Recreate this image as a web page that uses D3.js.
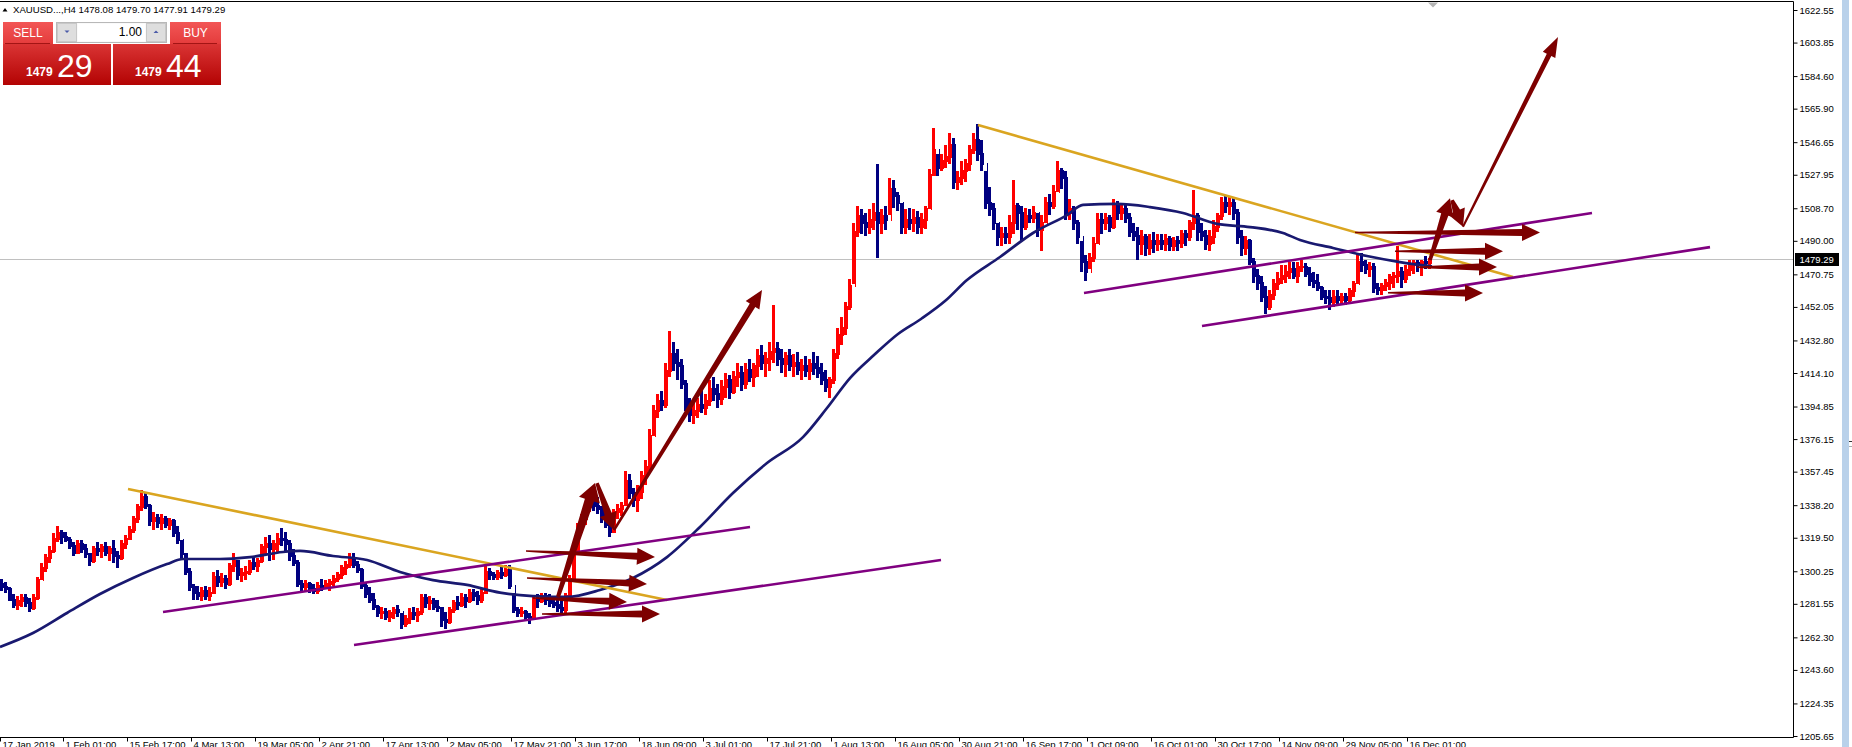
<!DOCTYPE html>
<html><head><meta charset="utf-8">
<script src="https://cdn.jsdelivr.net/npm/d3@7"></script>
<style>
html,body{margin:0;padding:0;background:#fff;overflow:hidden;}
svg{display:block;}
text{font-family:"Liberation Sans",Arial,sans-serif;}
</style></head><body>
<svg id="c" width="1852" height="747"></svg>
<script>
// ---------- DATA ----------
const symbolLabel = "XAUUSD...,H4";
const headerValues = ["1478.08", "1479.70", "1477.91", "1479.29"];
const lotSize = "1.00";
const sellPrice = ["1479", "29"];
const buyPrice = ["1479", "44"];
const lastPrice = 1479.29;
const barsPerGroup = 4;      // each entry below covers 4 H4 bars
const firstOpen = 1293;
const barHigh = [
1296,1294,1291,1287,1286,1287,1287,1285,1287,1297,
1305,1310,1315,1322,1326,1324,1323,1320,1317,1318,
1318,1316,1311,1315,1317,1316,1317,1315,1318,1312,
1318,1321,1326,1332,1339,1347,1345,1339,1334,1333,
1333,1332,1331,1330,1326,1318,1311,1302,1293,1292,
1291,1292,1291,1300,1301,1299,1298,1305,1311,1307,
1302,1303,1307,1309,1308,1316,1320,1321,1318,1322,
1325,1323,1318,1313,1307,1295,1295,1294,1293,1294,
1296,1295,1296,1298,1300,1304,1306,1311,1311,1306,
1302,1294,1291,1288,1281,1280,1279,1278,1280,1281,
1276,1275,1279,1280,1279,1287,1287,1286,1285,1284,
1280,1277,1280,1284,1286,1288,1287,1290,1290,1289,
1290,1303,1302,1300,1301,1303,1304,1304,1288,1280,
1280,1278,1276,1286,1287,1288,1288,1287,1286,1284,
1286,1288,1298,1315,1328,1333,1340,1346,1345,1343,
1338,1336,1331,1336,1339,1340,1358,1356,1348,1350,
1358,1364,1382,1396,1402,1404,1420,1438,1432,1428,
1422,1410,1400,1397,1400,1405,1402,1410,1412,1408,
1410,1414,1413,1415,1420,1418,1420,1422,1420,1428,
1430,1426,1432,1453,1432,1428,1426,1428,1425,1426,
1422,1424,1422,1426,1424,1420,1416,1412,1428,1440,
1446,1455,1468,1500,1510,1508,1506,1508,1512,1534,
1508,1510,1526,1525,1518,1512,1508,1509,1508,1507,
1506,1510,1531,1555,1540,1540,1545,1552,1549,1530,
1536,1537,1545,1552,1557,1548,1530,1521,1512,1500,
1498,1498,1505,1525,1512,1510,1509,1508,1510,1506,
1505,1515,1517,1522,1536,1532,1530,1514,1510,1502,
1490,1482,1483,1492,1506,1506,1506,1505,1514,1513,
1512,1511,1506,1500,1498,1496,1494,1494,1495,1494,
1494,1494,1493,1492,1493,1496,1496,1502,1519,1506,
1500,1496,1496,1502,1506,1515,1516,1515,1515,1508,
1496,1493,1491,1480,1474,1470,1464,1462,1468,1472,
1476,1476,1478,1478,1478,1479,1477,1475,1472,1471,
1464,1462,1462,1462,1462,1460,1460,1463,1467,1483,
1483,1479,1478,1477,1466,1466,1468,1471,1472,1487,
1475,1476,1479,1479,1479,1479,1481,1480];
const barLow = [
1289,1288,1283,1279,1278,1280,1280,1277,1278,1284,
1295,1300,1305,1311,1317,1316,1317,1313,1309,1310,
1311,1308,1303,1305,1309,1308,1309,1306,1305,1302,
1307,1313,1318,1322,1328,1335,1336,1326,1324,1325,
1324,1325,1324,1320,1316,1307,1298,1289,1284,1284,
1283,1284,1283,1287,1291,1291,1290,1292,1300,1295,
1294,1295,1298,1301,1300,1305,1310,1306,1307,1311,
1315,1312,1306,1303,1291,1289,1289,1288,1287,1287,
1289,1290,1289,1292,1294,1296,1298,1302,1302,1299,
1290,1285,1282,1278,1274,1273,1272,1271,1273,1274,
1267,1268,1270,1272,1271,1275,1279,1278,1278,1277,
1268,1267,1270,1276,1278,1280,1279,1282,1283,1281,
1282,1287,1295,1295,1295,1296,1297,1290,1276,1274,
1274,1272,1270,1272,1279,1282,1281,1280,1279,1277,
1276,1275,1284,1295,1310,1322,1327,1334,1335,1333,
1328,1325,1320,1322,1330,1332,1338,1342,1337,1334,
1342,1350,1358,1378,1388,1392,1394,1412,1415,1410,
1405,1392,1386,1385,1388,1391,1390,1395,1398,1394,
1396,1400,1399,1402,1406,1404,1405,1409,1406,1412,
1416,1412,1415,1420,1418,1414,1412,1415,1412,1413,
1410,1412,1410,1413,1411,1407,1403,1400,1408,1422,
1430,1436,1450,1465,1492,1494,1493,1494,1496,1480,
1494,1496,1505,1509,1507,1494,1494,1496,1495,1494,
1494,1497,1508,1527,1527,1530,1532,1534,1520,1519,
1522,1524,1530,1540,1536,1530,1508,1504,1496,1487,
1487,1488,1488,1494,1496,1490,1496,1500,1500,1492,
1484,1500,1505,1508,1518,1520,1502,1502,1496,1488,
1472,1467,1474,1478,1488,1494,1496,1495,1497,1502,
1502,1500,1492,1490,1479,1482,1481,1482,1483,1484,
1485,1484,1484,1484,1484,1486,1487,1490,1496,1490,
1490,1485,1484,1488,1495,1502,1506,1505,1502,1488,
1481,1482,1476,1466,1462,1455,1448,1450,1456,1462,
1465,1466,1468,1468,1466,1472,1469,1464,1463,1461,
1456,1454,1450,1452,1454,1454,1453,1454,1458,1465,
1472,1471,1469,1460,1459,1459,1461,1462,1463,1466,
1463,1466,1470,1471,1472,1470,1474,1474];
const barClose = [
1291,1290,1284,1281,1283,1285,1282,1279,1285,1295,
1302,1308,1312,1319,1322,1320,1318,1315,1311,1316,
1313,1310,1306,1313,1312,1314,1311,1313,1309,1308,
1316,1319,1324,1330,1337,1343,1338,1329,1331,1328,
1330,1327,1329,1322,1318,1310,1300,1291,1288,1286,
1289,1286,1288,1297,1294,1296,1293,1303,1306,1298,
1299,1300,1305,1303,1306,1314,1316,1313,1316,1319,
1318,1316,1309,1305,1293,1291,1293,1290,1289,1292,
1291,1293,1294,1296,1298,1302,1304,1308,1304,1301,
1292,1287,1284,1280,1276,1277,1274,1276,1278,1277,
1270,1273,1276,1275,1277,1285,1282,1283,1280,1279,
1272,1271,1278,1282,1281,1285,1283,1288,1286,1284,
1288,1300,1298,1297,1299,1298,1301,1292,1278,1276,
1277,1274,1273,1284,1283,1286,1284,1282,1281,1279,
1278,1286,1296,1312,1325,1330,1337,1341,1338,1336,
1331,1327,1323,1334,1336,1338,1352,1345,1341,1346,
1355,1360,1378,1392,1398,1396,1415,1425,1420,1418,
1408,1395,1390,1392,1396,1394,1398,1405,1402,1399,
1406,1410,1403,1412,1414,1408,1416,1412,1418,1424,
1420,1422,1426,1428,1422,1419,1424,1418,1420,1416,
1418,1415,1419,1417,1414,1410,1406,1410,1425,1436,
1440,1452,1464,1495,1504,1500,1498,1502,1506,1500,
1504,1502,1520,1516,1512,1498,1502,1500,1503,1498,
1502,1508,1528,1542,1532,1536,1538,1545,1524,1526,
1530,1534,1542,1548,1540,1534,1512,1508,1500,1492,
1494,1492,1500,1510,1506,1498,1504,1503,1506,1496,
1500,1512,1510,1518,1530,1526,1506,1508,1500,1492,
1478,1472,1480,1488,1502,1500,1503,1498,1510,1506,
1508,1503,1495,1493,1488,1492,1486,1490,1488,1490,
1488,1491,1487,1490,1489,1494,1492,1500,1504,1495,
1493,1488,1492,1498,1504,1512,1510,1512,1506,1492,
1486,1490,1478,1470,1466,1458,1452,1459,1465,1468,
1470,1472,1474,1470,1475,1475,1471,1467,1466,1463,
1458,1457,1455,1458,1456,1458,1456,1461,1465,1478,
1476,1474,1475,1463,1462,1464,1466,1469,1470,1472,
1468,1473,1476,1477,1476,1478,1477,1479.29];

// moving average (read at bar positions)
const maBars = [0,33,67,100,133,167,183,220,250,283,300,333,367,400,433,467,500,533,567,600,633,667,700,733,767,803,827,850,874,898,921,945,967,1000,1033,1067,1083,1117,1150,1183,1217,1250,1283,1300,1333,1367,1400,1432];
const maValues = [1256.8,1264.8,1276.3,1287.2,1296.4,1304.4,1307.3,1307.3,1308.4,1311.3,1311.9,1309.0,1306.7,1299.8,1295.2,1292.4,1288.0,1286.0,1285.5,1289.5,1296.4,1308.4,1325.7,1345.2,1362.4,1377.3,1394.0,1411.2,1424.4,1436.5,1445.1,1455.4,1467.5,1480.7,1494.5,1504.8,1510.6,1511.2,1509.4,1506.0,1499.7,1497.9,1494.5,1490.5,1485.9,1481.3,1477.8,1475.3];

// trend lines: [bar, price] start and end
const orangeStarts = [[128,1347.5],[978,1556.5]];
const orangeEnds   = [[667,1283.7],[1513,1469.2]];
const purpleStarts = [[163,1276.9],[354,1257.9],[1084,1460.0],[1202,1441.1]];
const purpleEnds   = [[750,1325.7],[941,1306.7],[1592,1506.0],[1710,1486.4]];

// arrows: tail and tip [bar, price], kind
const arrowTails = [[526,1311.9],[527,1296.4],[533,1284.9],[542,1275.7],[558,1285.5],[597,1350.9],[614,1323.9],[1355,1494.8],[1395,1484.0],[1417,1474.9],[1388,1460.1],[1430,1479.0],[1452,1513.4],[1463,1498.1]];
const arrowTips  = [[655,1308.4],[647,1292.9],[627,1282.6],[660,1275.7],[595,1350.9],[614,1323.9],[762,1461.8],[1540,1494.8],[1503,1484.0],[1497,1474.9],[1483,1460.1],[1450,1514.4],[1463,1498.1],[1558,1607.0]];
const arrowKinds = ["flat","flat","flat","flat","bold","mid","long","flat","flat","flat","flat","mid","mid","thin"];

const priceTicks = [1622.55,1603.85,1584.60,1565.90,1546.65,1527.95,1508.70,1490.00,1470.75,1452.05,1432.80,1414.10,1394.85,1376.15,1357.45,1338.20,1319.50,1300.25,1281.55,1262.30,1243.60,1224.35,1205.65];
const timeTickBars = [0,63,127,191,255,319,383,447,511,575,639,703,767,831,895,959,1023,1087,1151,1215,1279,1343,1407];
const timeTickLabels = ["17 Jan 2019","1 Feb 01:00","15 Feb 17:00","4 Mar 13:00","19 Mar 05:00","2 Apr 21:00","17 Apr 13:00","2 May 05:00","17 May 21:00","3 Jun 17:00","18 Jun 09:00","3 Jul 01:00","17 Jul 21:00","1 Aug 13:00","16 Aug 05:00","30 Aug 21:00","16 Sep 17:00","1 Oct 09:00","16 Oct 01:00","30 Oct 17:00","14 Nov 09:00","29 Nov 05:00","16 Dec 01:00"];

// ---------- STYLE / LAYOUT ----------
const plotRight = 1793, plotTop = 1.5, plotBottom = 737.5;
const upColor = "#ff0000", downColor = "#000080", maColor = "#191970";
const orangeColor = "#daa520", purpleColor = "#800080", arrowColor = "#7d0000";
const arrowStyle = {
  flat: {tail: 1.5, shaft: 7, head: 17, len: 18},
  bold: {tail: 4, shaft: 9.5, head: 22, len: 18},
  mid:  {tail: 3.5, shaft: 7.5, head: 18, len: 17},
  long: {tail: 2.5, shaft: 6.5, head: 16, len: 18},
  thin: {tail: 2, shaft: 5, head: 14, len: 20}
};

const svg = d3.select("#c");
const x = d3.scaleLinear().domain([0, 1793]).range([0, 1793]);
const y = d3.scaleLinear().domain([1205.65, 1622.55]).range([736, 10]);

const defs = svg.append("defs");
const f = defs.append("filter").attr("id", "soft").attr("x", "-10%").attr("y", "-10%").attr("width", "120%").attr("height", "120%");
f.append("feGaussianBlur").attr("stdDeviation", 0.4);
const g1 = defs.append("linearGradient").attr("id", "priceGrad").attr("x1", 0).attr("y1", 0).attr("x2", 0).attr("y2", 1);
g1.append("stop").attr("offset", "0%").attr("stop-color", "#da3434");
g1.append("stop").attr("offset", "100%").attr("stop-color", "#b30303");
const g2 = defs.append("linearGradient").attr("id", "labelGrad").attr("x1", 0).attr("y1", 0).attr("x2", 0).attr("y2", 1);
g2.append("stop").attr("offset", "0%").attr("stop-color", "#f25656");
g2.append("stop").attr("offset", "100%").attr("stop-color", "#e43c3c");

// current price line
svg.append("line").attr("x1", 0).attr("x2", plotRight).attr("y1", Math.round(y(lastPrice)) + 0.5).attr("y2", Math.round(y(lastPrice)) + 0.5)
  .attr("stroke", "#c0c0c0").attr("stroke-width", 1);

// bars: 3px high-low stem plus a 1px close tick column
const groups = barClose.map((c, i) => ({i, o: i === 0 ? firstOpen : barClose[i - 1], h: barHigh[i], l: barLow[i], c}));
const step = x(barsPerGroup) - x(0);
const barG = svg.append("g").attr("shape-rendering", "crispEdges");
const glyph = barG.selectAll("g").data(groups).join("g")
  .attr("fill", d => d.c >= d.o ? upColor : downColor);
glyph.append("rect")
  .attr("x", d => x(d.i * barsPerGroup)).attr("width", step - 1)
  .attr("y", d => y(d.h)).attr("height", d => Math.max(1, y(d.l) - y(d.h)));
glyph.append("rect")
  .attr("x", d => x(d.i * barsPerGroup) + step - 1).attr("width", 1)
  .attr("y", d => Math.min(y(d.o), y(d.c)) - 1).attr("height", d => Math.abs(y(d.o) - y(d.c)) + 2);

// moving average
const maLine = d3.line().x(d => x(d[0])).y(d => y(d[1])).curve(d3.curveMonotoneX);
svg.append("path").datum(maBars.map((b, i) => [b, maValues[i]]))
  .attr("d", maLine).attr("fill", "none").attr("stroke", maColor).attr("stroke-width", 2.7);

// trend lines
function drawLines(starts, ends, color) {
  svg.append("g").selectAll("line").data(starts.map((s, i) => [s, ends[i]])).join("line")
    .attr("x1", d => x(d[0][0])).attr("y1", d => y(d[0][1]))
    .attr("x2", d => x(d[1][0])).attr("y2", d => y(d[1][1]))
    .attr("stroke", color).attr("stroke-width", 2.6);
}
drawLines(orangeStarts, orangeEnds, orangeColor);
drawLines(purpleStarts, purpleEnds, purpleColor);

// arrows
function arrowPath(t, p, s) {
  const x1 = x(t[0]), y1 = y(t[1]), x2 = x(p[0]), y2 = y(p[1]);
  const dx = x2 - x1, dy = y2 - y1, L = Math.hypot(dx, dy);
  const ux = dx / L, uy = dy / L, nx = -uy, ny = ux;
  const bx = x2 - ux * s.len, by = y2 - uy * s.len;
  const pts = [
    [x1 + nx * s.tail / 2, y1 + ny * s.tail / 2],
    [bx + nx * s.shaft / 2, by + ny * s.shaft / 2],
    [bx + nx * s.head / 2, by + ny * s.head / 2],
    [x2, y2],
    [bx - nx * s.head / 2, by - ny * s.head / 2],
    [bx - nx * s.shaft / 2, by - ny * s.shaft / 2],
    [x1 - nx * s.tail / 2, y1 - ny * s.tail / 2]
  ];
  return "M" + pts.map(q => q[0].toFixed(1) + "," + q[1].toFixed(1)).join("L") + "Z";
}
svg.append("g").attr("filter", "url(#soft)").selectAll("path")
  .data(arrowTails.map((t, i) => ({t, p: arrowTips[i], k: arrowKinds[i]}))).join("path")
  .attr("d", d => arrowPath(d.t, d.p, arrowStyle[d.k]))
  .attr("fill", arrowColor);

// frame
svg.append("rect").attr("x", plotRight + 1).attr("y", 0).attr("width", 1852 - plotRight - 1).attr("height", 747).attr("fill", "#fff");
svg.append("rect").attr("x", 0).attr("y", plotBottom + 0.5).attr("width", 1852).attr("height", 10).attr("fill", "#fff");
svg.append("path").attr("d", `M0,${plotTop}H${plotRight + 0.5}V${plotBottom}H0`).attr("fill", "none").attr("stroke", "#000").attr("stroke-width", 1);

// shift marker
svg.append("path").attr("d", "M1428,2.5L1438,2.5L1433,7.5Z").attr("fill", "#b4b4b4");

// price axis
const yAxis = d3.axisRight(y).tickValues(priceTicks).tickSize(4).tickSizeOuter(0).tickFormat(d3.format(".2f"));
const ya = svg.append("g").attr("transform", `translate(${plotRight + 0.5},0)`).call(yAxis);
ya.select(".domain").remove();
ya.selectAll("text").attr("x", 6).style("font-size", "9.5px").style("font-family", "Liberation Sans, Arial, sans-serif").attr("fill", "#000");
ya.selectAll("line").attr("stroke", "#000");

// current price label
svg.append("rect").attr("x", plotRight + 2).attr("y", Math.round(y(lastPrice)) - 6).attr("width", 44).attr("height", 13).attr("fill", "#000");
svg.append("text").attr("x", plotRight + 6.5).attr("y", y(lastPrice) + 4).text(d3.format(".2f")(lastPrice))
  .attr("fill", "#fff").style("font-size", "9.5px");

// time axis
const xAxis = d3.axisBottom(x).tickValues(timeTickBars).tickSize(4).tickSizeOuter(0).tickFormat((d, i) => timeTickLabels[i]);
const xa = svg.append("g").attr("transform", `translate(0,${plotBottom})`).call(xAxis);
xa.select(".domain").remove();
xa.selectAll("line").attr("stroke", "#000");
xa.selectAll("text").attr("x", 2).attr("y", 4).attr("dy", "0.72em").style("text-anchor", "start")
  .style("font-size", "9.5px").style("font-family", "Liberation Sans, Arial, sans-serif").attr("fill", "#000");

// right scroll strip
svg.append("rect").attr("x", 1842).attr("y", 0).attr("width", 7).attr("height", 747).attr("fill", "#b9d1ea");
svg.append("line").attr("x1", 1849).attr("x2", 1852).attr("y1", 441.5).attr("y2", 441.5).attr("stroke", "#333");
svg.append("line").attr("x1", 1849).attr("x2", 1852).attr("y1", 446.5).attr("y2", 446.5).attr("stroke", "#aaa");

// ---------- top-left trade panel ----------
const panel = svg.append("g");
panel.append("path").attr("d", "M2.5,11.5L5,8L7.5,11.5Z").attr("fill", "#000");
panel.append("text").attr("x", 13).attr("y", 13).style("font-size", "9.6px").attr("fill", "#000")
  .text(symbolLabel + "  " + headerValues.join(" "));

// SELL
panel.append("rect").attr("x", 3).attr("y", 22).attr("width", 50).attr("height", 22).attr("fill", "url(#labelGrad)");
panel.append("rect").attr("x", 3).attr("y", 44).attr("width", 108).attr("height", 41).attr("fill", "url(#priceGrad)");
panel.append("line").attr("x1", 5).attr("x2", 50).attr("y1", 43.5).attr("y2", 43.5).attr("stroke", "#a31414");
panel.append("text").attr("x", 28).attr("y", 37).attr("text-anchor", "middle").attr("fill", "#fff").style("font-size", "12px").text("SELL");
panel.append("text").attr("x", 26).attr("y", 76).attr("fill", "#fff").style("font-size", "12px").style("font-weight", "bold").text(sellPrice[0]);
panel.append("text").attr("x", 57).attr("y", 77).attr("fill", "#fff").style("font-size", "32px").text(sellPrice[1]);

// BUY
panel.append("rect").attr("x", 170).attr("y", 22).attr("width", 51).attr("height", 22).attr("fill", "url(#labelGrad)");
panel.append("rect").attr("x", 113).attr("y", 44).attr("width", 108).attr("height", 41).attr("fill", "url(#priceGrad)");
panel.append("line").attr("x1", 173).attr("x2", 217).attr("y1", 43.5).attr("y2", 43.5).attr("stroke", "#a31414");
panel.append("text").attr("x", 195.5).attr("y", 37).attr("text-anchor", "middle").attr("fill", "#fff").style("font-size", "12px").text("BUY");
panel.append("text").attr("x", 135).attr("y", 76).attr("fill", "#fff").style("font-size", "12px").style("font-weight", "bold").text(buyPrice[0]);
panel.append("text").attr("x", 166).attr("y", 77).attr("fill", "#fff").style("font-size", "32px").text(buyPrice[1]);

// lot size control
panel.append("rect").attr("x", 56.5).attr("y", 22.5).attr("width", 110).attr("height", 20).attr("fill", "#f4f4f4").attr("stroke", "#b8b8b8");
panel.append("rect").attr("x", 57.5).attr("y", 23.5).attr("width", 19).attr("height", 18).attr("fill", "#dedede").attr("stroke", "#c8c8c8");
panel.append("rect").attr("x", 146.5).attr("y", 23.5).attr("width", 19).attr("height", 18).attr("fill", "#dedede").attr("stroke", "#c8c8c8");
panel.append("rect").attr("x", 77.5).attr("y", 23.5).attr("width", 68).attr("height", 18).attr("fill", "#fff");
panel.append("path").attr("d", "M64.5,30.5L69.5,30.5L67,33Z").attr("fill", "#4a5aa8");
panel.append("path").attr("d", "M153.5,33L158.5,33L156,30.5Z").attr("fill", "#4a5aa8");
panel.append("text").attr("x", 142).attr("y", 36).attr("text-anchor", "end").attr("fill", "#000").style("font-size", "12px").text(lotSize);
</script>
</body></html>
